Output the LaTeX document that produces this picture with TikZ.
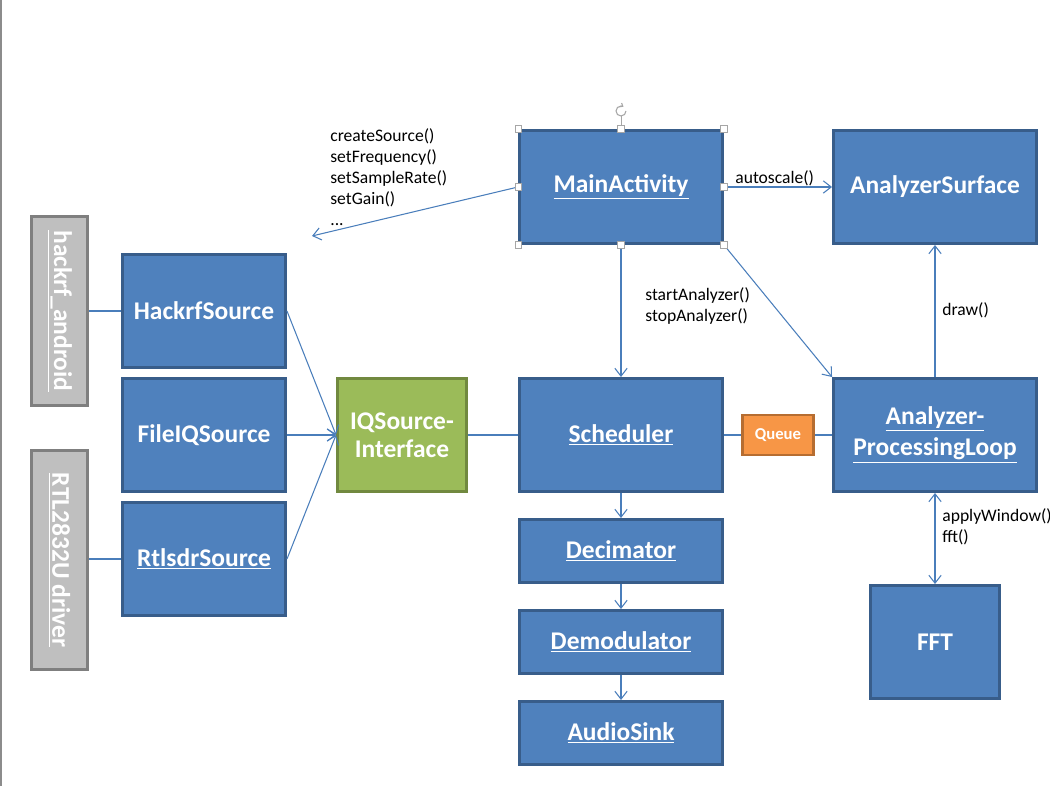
\documentclass[tikz,border=0pt]{standalone}
\usepackage{fontspec}
\setmainfont{Carlito}
\usetikzlibrary{arrows.meta}

\definecolor{boxblue}{HTML}{4F81BD}
\definecolor{boxblueline}{HTML}{385D8A}
\definecolor{ifacegreen}{HTML}{9BBB59}
\definecolor{ifacegreenline}{HTML}{71893F}
\definecolor{queueorange}{HTML}{F79646}
\definecolor{queueorangeline}{HTML}{B66D31}
\definecolor{libgrey}{HTML}{BFBFBF}
\definecolor{libgreyline}{HTML}{7F7F7F}
\definecolor{connblue}{HTML}{4A7EBB}

\tikzset{
  blockbox/.style={draw=boxblueline, fill=boxblue, line width=1.7pt, text=white,
    font=\fontsize{14.5}{16}\selectfont\bfseries, align=center, inner sep=0pt},
  ifacebox/.style={blockbox, draw=ifacegreenline, fill=ifacegreen},
  queuebox/.style={blockbox, draw=queueorangeline, fill=queueorange,
    font=\fontsize{9.5}{11}\selectfont\bfseries},
  libbox/.style={blockbox, draw=libgreyline, fill=libgrey, rotate=-90},
  lbl/.style={font=\fontsize{10}{12}\selectfont, align=left, inner sep=0pt},
  conn/.style={draw=connblue, line width=0.6pt},
  tip/.style={conn, -{Straight Barb[length=4.5pt,width=7pt]}},
  handle/.style={draw=gray!70, fill=white, line width=0.4pt, minimum size=3.6pt, inner sep=0pt},
}

\begin{document}
\begin{tikzpicture}[x=0.02cm, y=-0.02cm]
  \useasboundingbox (0,0) rectangle (1050,786);
  \draw[gray!90, line width=1.2pt] (1,0) -- (1,786);

  % top row
  \node[blockbox, minimum width=4.06cm, minimum height=2.26cm] (main) at (621,187) {\underline{MainActivity}};
  \node[blockbox, minimum width=4.06cm, minimum height=2.26cm] (surface) at (935,187) {AnalyzerSurface};

  % libraries
  \node[libbox, minimum width=3.78cm, minimum height=1.12cm] (hackrflib) at (59.5,311) {\underline{hackrf\_android}};
  \node[libbox, minimum width=4.40cm, minimum height=1.12cm] (rtllib) at (59.5,560) {\underline{RTL2832U driver}};

  % sources
  \node[blockbox, minimum width=3.26cm, minimum height=2.26cm] (hackrf) at (204,311) {HackrfSource};
  \node[blockbox, minimum width=3.26cm, minimum height=2.26cm] (fileiq) at (204,435) {FileIQSource};
  \node[blockbox, minimum width=3.26cm, minimum height=2.26cm] (rtlsdr) at (204,559) {\underline{RtlsdrSource}};
  \node[ifacebox, minimum width=2.58cm, minimum height=2.26cm] (iqsrc) at (402,435) {IQSource-\\Interface};

  % middle row
  \node[blockbox, minimum width=4.06cm, minimum height=2.26cm] (sched) at (621,435) {\underline{Scheduler}};
  \node[queuebox, minimum width=1.42cm, minimum height=0.80cm] (queue) at (778,435) {Queue};
  \node[blockbox, minimum width=4.06cm, minimum height=2.26cm] (procloop) at (935,435) {\underline{Analyzer-}\\[2pt]\underline{ProcessingLoop}};

  % demodulation chain
  \node[blockbox, minimum width=4.06cm, minimum height=1.26cm] (decim) at (621,551) {\underline{Decimator}};
  \node[blockbox, minimum width=4.06cm, minimum height=1.26cm] (demod) at (621,642) {\underline{Demodulator}};
  \node[blockbox, minimum width=4.06cm, minimum height=1.26cm] (sink) at (621,733) {\underline{AudioSink}};
  \node[blockbox, minimum width=2.58cm, minimum height=2.26cm] (fft) at (935,642) {FFT};

  \coordinate (srcend) at (312,236);

  % connectors
  \draw[tip] (main.west) -- (srcend);
  \draw[tip] (main.east) -- (surface.west);
  \draw[tip] (main.south) -- (sched.north);
  \draw[tip] (main.south east) -- (procloop.north west);
  \draw[tip] (procloop.north) -- (surface.south);
  \draw[conn, {Straight Barb[length=4.5pt,width=7pt]}-{Straight Barb[length=4.5pt,width=7pt]}] (procloop.south) -- (fft.north);
  \draw[conn] (sched.east) -- (queue.west);
  \draw[conn] (queue.east) -- (procloop.west);
  \draw[conn] (iqsrc.east) -- (sched.west);
  \draw[tip] (hackrf.east) -- (iqsrc.west);
  \draw[tip] (fileiq.east) -- (iqsrc.west);
  \draw[tip] (rtlsdr.east) -- (iqsrc.west);
  \draw[conn] (hackrflib.north) -- (hackrf.west);
  \draw[conn] (rtllib.north |- rtlsdr.west) -- (rtlsdr.west);
  \draw[tip] (sched.south) -- (decim.north);
  \draw[tip] (decim.south) -- (demod.north);
  \draw[tip] (demod.south) -- (sink.north);

  % labels
  \node[lbl, anchor=north west] (setuplbl) at (330,128) {createSource()\\setFrequency()\\setSampleRate()\\setGain()\\...};
  \node[lbl, anchor=west] (scalelbl) at (735,178) {autoscale()};
  \node[lbl, anchor=west] (startlbl) at (645,306) {startAnalyzer()\\stopAnalyzer()};
  \node[lbl, anchor=west] (drawlbl) at (942,310) {draw()};
  \node[lbl, anchor=west] (fftlbl) at (942,527) {applyWindow()\\fft()};

  % selection handles of MainActivity
  \draw[gray!70, line width=0.4pt] (main.north) -- (621,116);
  \draw[gray!70, line width=0.6pt, -{Straight Barb[length=1.5pt,width=2.5pt]}] (626,111) arc[start angle=0, end angle=300, radius=5];
  \foreach \a in {north west, north, north east, west, east, south west, south, south east}
    \node[handle] at (main.\a) {};
\end{tikzpicture}
\end{document}
